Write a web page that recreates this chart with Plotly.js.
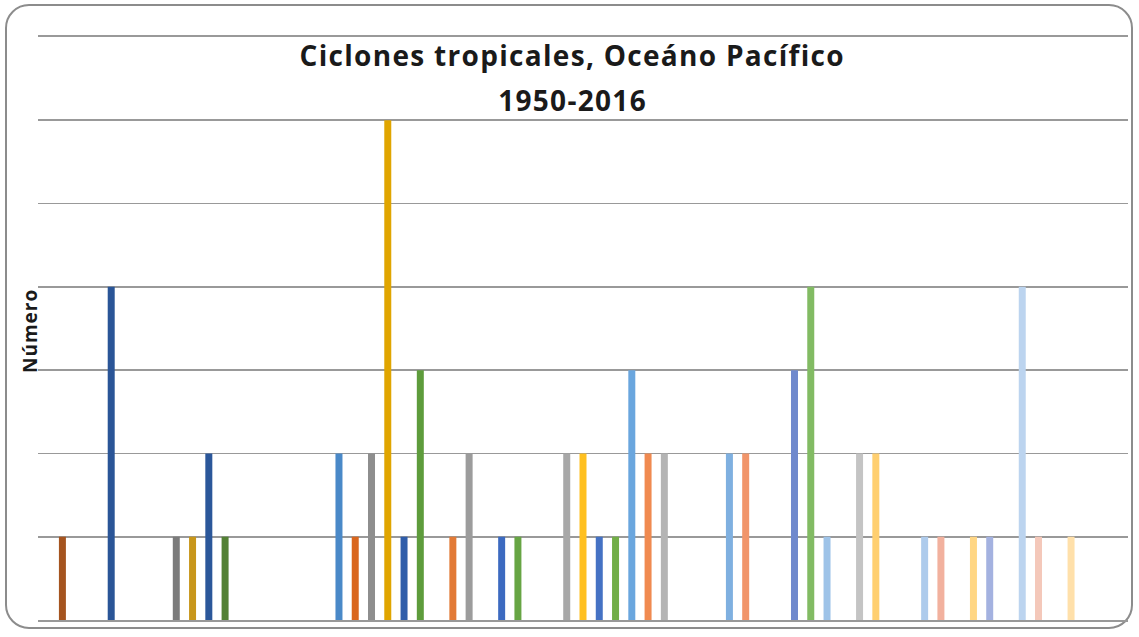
<!DOCTYPE html>
<html>
<head>
<meta charset="utf-8">
<script src="https://cdn.plot.ly/plotly-3.0.1.min.js"></script>
<style>
  html, body { margin: 0; padding: 0; background: #ffffff; }
  #wrap { position: relative; width: 1139px; height: 637px; overflow: hidden; }
  #frame { position: absolute; left: 5px; top: 4px; width: 1128px; height: 625px;
           border: 2px solid #8c8c8c; border-radius: 24px; box-sizing: border-box; }
  #chart { position: absolute; left: 0; top: 0; width: 1139px; height: 637px; }
</style>
</head>
<body>
<div id="wrap">
  <div id="frame"></div>
  <div id="chart"></div>
</div>
<script>
// Years 1950-2016 (category labels)
const years = [
  1950,1951,1952,1953,1954,1955,1956,1957,1958,1959,
  1960,1961,1962,1963,1964,1965,1966,1967,1968,1969,
  1970,1971,1972,1973,1974,1975,1976,1977,1978,1979,
  1980,1981,1982,1983,1984,1985,1986,1987,1988,1989,
  1990,1991,1992,1993,1994,1995,1996,1997,1998,1999,
  2000,2001,2002,2003,2004,2005,2006,2007,2008,2009,
  2010,2011,2012,2013,2014,2015,2016
];
// Number of tropical cyclones per year
const counts = [
  0,1,0,0,4,0,0,0,1,1,
  2,1,0,0,0,0,0,0,2,1,
  2,6,1,3,0,1,2,0,1,1,
  0,0,2,2,1,1,3,2,2,0,
  0,0,2,2,0,0,3,4,1,0,
  2,2,0,0,1,1,0,1,1,0,
  4,1,0,1,0,0,0
];
// Texts
const titleLine1 = 'Ciclones tropicales, Oceáno Pacífico';
const titleLine2 = '1950-2016';
const yTitle = 'Número';

// Per-point colours (vary colours by point)
const barColors = [
  '#5B9BD5','#A5541F','#7F7F7F','#BF9000','#2A5597','#507E32',
  '#41719C','#C55A11','#7B7B7B','#C8961A','#2B579A','#538135',
  '#4A89C8','#D9661E','#8E8E8E','#E0A500','#2F5DAA','#5E9C3C',
  '#4A89C8','#D9661E','#8E8E8E','#E0A500','#2F5DAA','#5E9C3C',
  '#5596D0','#E27A36','#9C9C9C','#F0B400','#3C6AC0','#67A544',
  '#5B9BD5','#ED7D31','#A8A8A8','#FFC020','#4572C4','#72AE48',
  '#6AA6DE','#F08A50','#B4B4B4','#FFC840','#5A80CA','#7DB55A',
  '#7FB0E0','#F1956A','#BCBCBC','#FFCC55','#6F89CD','#82BB63',
  '#9EC3E8','#F3A684','#C4C4C4','#FFCF70','#8CA0D6','#98C780',
  '#AECBEC','#F2B19E','#CCCCCC','#FFD684','#A4B2E0','#A8D090',
  '#BCD4EF','#F4C8BA','#D4D4D4','#FFE0AA','#B4C0E6','#B8D8A4',
  '#C8DCF2'
];

const trace = {
  type: 'bar',
  x: years.map(String),
  y: counts,
  marker: { color: barColors, line: { width: 0 } },
  hoverinfo: 'x+y'
};

const gridCol = '#999999';
const titleX = 0.5 - 11 / 1090;

const layout = {
  width: 1139,
  height: 637,
  margin: { l: 38, r: 11, t: 37, b: 17, pad: 0 },
  paper_bgcolor: 'rgba(0,0,0,0)',
  plot_bgcolor: 'rgba(0,0,0,0)',
  showlegend: false,
  bargap: 0.57,
  font: { family: 'Open Sans, Liberation Sans, sans-serif', color: '#1a1a1a' },
  xaxis: {
    type: 'category',
    showticklabels: false,
    ticks: '',
    showgrid: false,
    zeroline: false,
    showline: true,
    mirror: true,
    linecolor: gridCol,
    linewidth: 1.7,
    fixedrange: true
  },
  yaxis: {
    range: [0, 7],
    dtick: 1,
    showticklabels: false,
    ticks: '',
    showgrid: true,
    gridcolor: gridCol,
    gridwidth: 1.7,
    zeroline: false,
    showline: false,
    fixedrange: true
  },
  annotations: [
    {
      text: '<b>' + titleLine1 + '</b>',
      xref: 'paper', yref: 'paper',
      x: titleX, y: (620 - 55) / 583, xanchor: 'center', yanchor: 'middle',
      showarrow: false,
      font: { family: 'Open Sans, sans-serif', size: 28, color: '#1a1a1a' }
    },
    {
      text: '<b>' + titleLine2 + '</b>',
      xref: 'paper', yref: 'paper',
      x: titleX, y: (620 - 100) / 583, xanchor: 'center', yanchor: 'middle',
      showarrow: false,
      font: { family: 'Open Sans, sans-serif', size: 28, color: '#1a1a1a' }
    },
    {
      text: '<b>' + yTitle + '</b>',
      xref: 'paper', yref: 'paper',
      x: (30 - 38) / 1090, y: (620 - 331) / 583, xanchor: 'center', yanchor: 'middle',
      textangle: -90,
      showarrow: false,
      font: { family: 'Open Sans, sans-serif', size: 19, color: '#1a1a1a' }
    }
  ]
};

Plotly.newPlot('chart', [trace], layout, { displayModeBar: false, staticPlot: true }).then(function () {
  const texts = document.querySelectorAll('.annotation-text');
  texts.forEach(function (t, i) {
    if (i < 2) t.style.letterSpacing = '1.3px';
    else t.style.letterSpacing = '1px';
  });
});
</script>
</body>
</html>
